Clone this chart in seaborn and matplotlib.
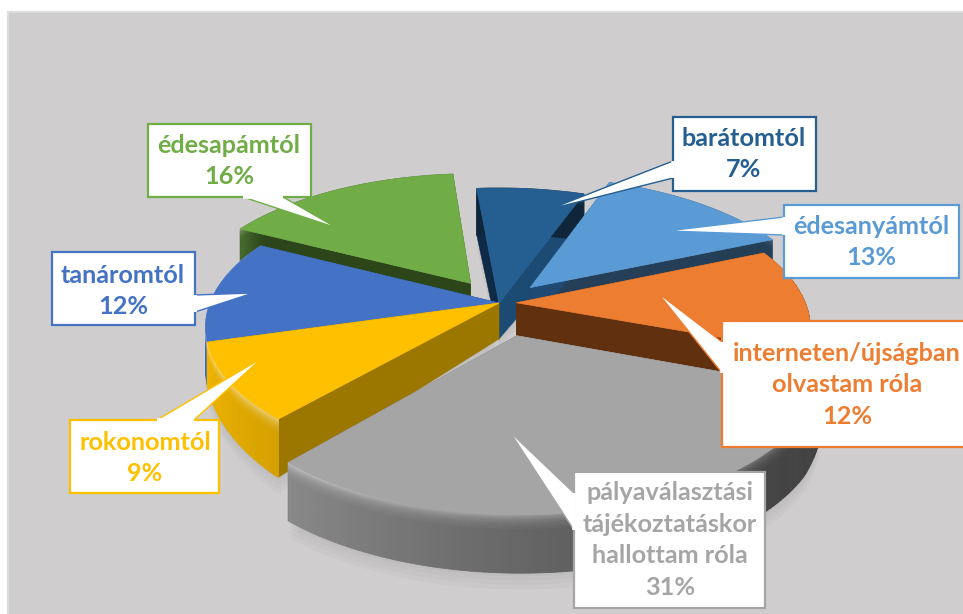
import numpy as np
import matplotlib
matplotlib.use('Agg')
import matplotlib.pyplot as plt
import matplotlib.transforms as mtransforms
from matplotlib.colors import to_rgb
from matplotlib.patches import Polygon, Rectangle
import seaborn as sns

sns.set_theme(style='white')
plt.rcParams['font.family'] = ['Lato', 'DejaVu Sans']

# clockwise from the back of the pie
labels = ['barátomtól', 'édesanyámtól', 'interneten/újságban\nolvastam róla',
          'pályaválasztási\ntájékoztatáskor\nhallottam róla', 'rokonomtól',
          'tanáromtól', 'édesapámtól']
values = [7, 13, 12, 31, 9, 12, 16]
explode = [0, 0.16, 0.06, 0.24, 0, 0, 0.18]
colors = ['#255e91', '#5b9bd5', '#ed7d31', '#a5a5a5', '#ffc000', '#4472c4', '#70ad47']
# side walls: (clockwise end of the slice, clockwise start of the slice)
walls = [('#1b4a73', '#0e2a47'), ('#253f59', '#1f4a73'), ('#61300f', '#61300f'),
         ('#666666', '#666666'), ('#8a6a00', '#9c7700'), ('#2a4880', '#2a4880'),
         ('#2c461a', '#2c461a')]
draw_order = [6, 0, 1, 2, 5, 4, 3]

# callout boxes: x0, y0, x1, y1, then the tail (tip, base point, base point)
boxes = [
    (673, 117, 816, 191, (550, 209), (673, 161), (673, 178)),
    (784, 205, 959, 278, (667, 231), (784, 217), (784, 235)),
    (722, 321, 975, 447, (658, 293), (722, 342), (722, 373)),
    (574, 472, 765, 608, (510, 432), (574, 493), (574, 530)),
    (70, 420, 219, 493, (262, 358), (157, 420), (194, 420)),
    (52, 252, 195, 325, (253, 293), (195, 295), (195, 312)),
    (148, 124, 311, 197, (337, 228), (243, 197), (283, 197)),
]
text_pos = [(744, 154), (871, 242), (847, 385), (670, 540), (145, 458), (123, 291), (229, 161)]

CX, CY, RX, RY, P, DEPTH = 499, 303, 289, 135, 0.174, 36


def project(x, y, z=0.0):
    x, y = np.asarray(x, float), np.asarray(y, float)
    s = 1 / (1 + P * y)
    d = np.where(s >= 1, np.minimum(1.62, s ** 3.5), 1 + (1 - s) * 2)
    return CX + RX * x * s, CY - RY * y * s + z * DEPTH * d


class DiscProjection(mtransforms.Transform):
    input_dims = 2
    output_dims = 2

    def __init__(self, z=0.0):
        super().__init__()
        self.z = z

    def transform_non_affine(self, xy):
        px, py = project(xy[:, 0], xy[:, 1], self.z)
        return np.column_stack([px, py])


def rim_factor(phi):
    phi = (phi + 360) % 360
    return np.interp(phi, [90, 145, 165, 180, 225, 270, 315, 360, 450],
                     [0.4, 0.4, 1.0, 1.0, 0.85, 0.62, 0.42, 0.38, 0.5])


fig = plt.figure(figsize=(9.63, 6.14), dpi=100, facecolor='white')
ax = fig.add_axes([0, 0, 1, 1])
wedges, _ = ax.pie(values, explode=explode, colors=colors, startangle=95.2, counterclock=False,
                   wedgeprops={'linewidth': 0.5})
ax.set_aspect('auto')
ax.set_xlim(0, 963)
ax.set_ylim(614, 0)
ax.axis('off')

ax.add_patch(Rectangle((8, 12), 960, 610, facecolor='#cfcdcd', edgecolor='#dcdcdc', lw=1.5, zorder=0))

# soft shadow on the panel
for w in wedges:
    t = np.radians(np.linspace(w.theta1, w.theta2, 50))
    sx = np.r_[w.center[0], w.center[0] + np.cos(t)]
    sy = np.r_[w.center[1], w.center[1] + np.sin(t)]
    for extra in [1.05, 1.12, 1.2, 1.28]:
        px, py = project(sx, sy, extra)
        ax.fill(px, py, color='black', alpha=0.018, lw=0, zorder=1)

z_bands = [0, 0.02, 0.04, 0.06, 0.08, 0.1, 0.13, 0.16, 0.2, 0.25, 1]
z_light = [0.55, 0.48, 0.4, 0.33, 0.27, 0.21, 0.15, 0.1, 0.05, 0]

for rank, i in enumerate(draw_order):
    w = wedges[i]
    cx0, cy0 = w.center
    base = np.array(to_rgb(colors[i]))
    zo = 2 + rank
    for theta, wall in zip([w.theta1, w.theta2], walls[i]):
        ex = cx0 + np.cos(np.radians(theta))
        ey = cy0 + np.sin(np.radians(theta))
        tx, ty = project([cx0, ex], [cy0, ey], 0)
        bx, by = project([cx0, ex], [cy0, ey], 1)
        ax.fill(np.r_[tx, bx[::-1]], np.r_[ty, by[::-1]], color=wall, lw=0.3, zorder=zo)
    edges = np.linspace(w.theta1, w.theta2, int(w.theta2 - w.theta1) + 2)
    for a0, a1 in zip(edges[:-1], edges[1:]):
        phi = 0.5 * (a0 + a1)
        ang = np.radians([a0, a1])
        x = cx0 + np.cos(ang)
        y = cy0 + np.sin(ang)
        for z0, z1, li in zip(z_bands[:-1], z_bands[1:], z_light):
            f = rim_factor(phi)
            c = base * f
            c = c + (1 - c) * li * f
            px0, py0 = project(x, y, z0)
            px1, py1 = project(x, y, z1)
            ax.fill(np.r_[px0, px1[::-1]], np.r_[py0, py1[::-1]], color=tuple(np.clip(c, 0, 1)),
                    lw=0.6, zorder=zo + 0.1)
    w.set_transform(DiscProjection() + ax.transData)
    w.set_edgecolor(colors[i])
    w.set_zorder(zo + 0.2)

for i, b in enumerate(boxes):
    x0, y0, x1, y1, tip, p0, p1 = b
    ax.add_patch(Rectangle((x0, y0), x1 - x0, y1 - y0, facecolor='white', edgecolor=colors[i],
                           lw=1.6, zorder=20))
    ax.add_patch(Polygon([p0, tip, p1], closed=True, facecolor='white', edgecolor=colors[i],
                         lw=1.0, zorder=20.5))
    # hide the border under the tail base
    ax.plot([p0[0], p1[0]], [p0[1], p1[1]], color='white', lw=2.6, zorder=20.6,
            solid_capstyle='butt')
    ax.text(text_pos[i][0], text_pos[i][1], f'{labels[i]}\n{values[i]}%', color=colors[i],
            fontsize=18.2, fontweight='bold', ha='center', va='center', linespacing=1.45, zorder=21)

fig.savefig('out.png', dpi=100)
